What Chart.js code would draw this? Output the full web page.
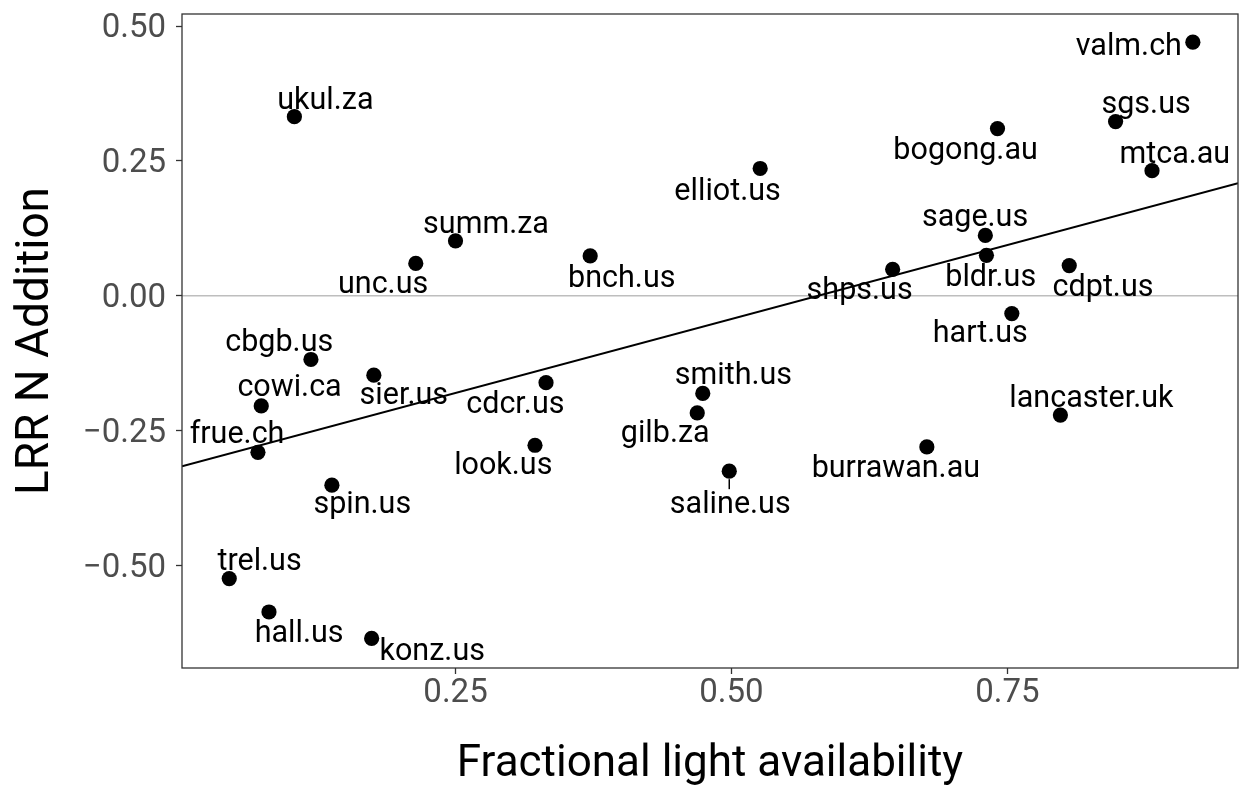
<!DOCTYPE html>
<html>
<head>
<meta charset="utf-8">
<script src="https://cdn.jsdelivr.net/npm/chart.js@4/dist/chart.umd.min.js"></script>
<style>
  html, body { margin: 0; padding: 0; background: #fff; }
  #wrap { width: 1239px; height: 787px; }
</style>
</head>
<body>
<div id="wrap"><canvas id="chart-light" width="1239" height="787"></canvas></div>
<script>
// sitios y valores
const sites = ['valm.ch', 'ukul.za', 'sgs.us', 'bogong.au', 'mtca.au', 'elliot.us', 'summ.za', 'sage.us',
  'bnch.us', 'unc.us', 'bldr.us', 'shps.us', 'cdpt.us', 'hart.us', 'cbgb.us', 'sier.us', 'cdcr.us',
  'smith.us', 'cowi.ca', 'gilb.za', 'lancaster.uk', 'look.us', 'burrawan.au', 'frue.ch', 'saline.us',
  'spin.us', 'trel.us', 'hall.us', 'konz.us']
const lightAvail = [0.918, 0.104, 0.848, 0.741, 0.881, 0.526, 0.250, 0.730,
  0.372, 0.214, 0.731, 0.646, 0.806, 0.754, 0.119, 0.176, 0.332,
  0.474, 0.074, 0.469, 0.798, 0.322, 0.677, 0.071, 0.498,
  0.138, 0.045, 0.081, 0.174]
const lrrN = [0.470, 0.332, 0.323, 0.310, 0.232, 0.236, 0.102, 0.112,
  0.074, 0.060, 0.075, 0.049, 0.056, -0.033, -0.118, -0.147, -0.161,
  -0.181, -0.204, -0.217, -0.221, -0.277, -0.280, -0.290, -0.325,
  -0.351, -0.524, -0.586, -0.635]

// recta de ajuste (extremos)
const trendX = [0.0022, 0.9589]
const trendY = [-0.316, 0.2085]

const xTicks = [0.25, 0.50, 0.75]
const xTickLabels = ['0.25', '0.50', '0.75']
const yTicks = [-0.50, -0.25, 0.00, 0.25, 0.50]
const yTickLabels = ['\u22120.50', '\u22120.25', '0.00', '0.25', '0.50']

const xRange = [0.0022, 0.9589]
const yRange = [-0.6898, 0.5223]

// desplazamiento de cada etiqueta respecto a su punto (px), como lo dejó ggrepel
const labelNudge = {
  'valm.ch': [-64, 12.7], 'ukul.za': [31, -7.4], 'sgs.us': [30.5, -8.4], 'bogong.au': [-31.9, 30.3],
  'mtca.au': [22.8, -8], 'elliot.us': [-32.6, 31.3], 'summ.za': [30.5, -8], 'sage.us': [-10.3, -9.3],
  'bnch.us': [31.6, 30.7], 'unc.us': [-32.7, 30], 'bldr.us': [4.3, 30.7], 'shps.us': [-33, 30],
  'cdpt.us': [33.8, 30.4], 'hart.us': [-31.5, 28.4], 'cbgb.us': [-31.7, -8.6], 'sier.us': [30, 29],
  'cdcr.us': [-30.7, 30.4], 'smith.us': [30.7, -9], 'cowi.ca': [28.3, -9.7], 'gilb.za': [-32, 29],
  'lancaster.uk': [31, -8.3], 'look.us': [-31.7, 29], 'burrawan.au': [-31, 30], 'frue.ch': [-20.9, -9],
  'saline.us': [1, 42], 'spin.us': [30.4, 28], 'trel.us': [30.3, -8.3], 'hall.us': [30.1, 30],
  'konz.us': [60.6, 21.7]
}
const leaderLines = ['saline.us']

const FONT = 'Roboto'

const siteLabels = {
  id: 'siteLabels',
  afterDatasetsDraw(chart) {
    const { ctx, scales: { x, y } } = chart
    ctx.save()
    ctx.font = '30.5px ' + FONT
    ctx.fillStyle = '#000000'
    ctx.strokeStyle = '#000000'
    ctx.lineWidth = 1.5
    ctx.textAlign = 'center'
    ctx.textBaseline = 'alphabetic'
    sites.forEach((s, i) => {
      const px = x.getPixelForValue(lightAvail[i])
      const py = y.getPixelForValue(lrrN[i])
      const [dx, dy] = labelNudge[s]
      if (leaderLines.includes(s)) {
        ctx.beginPath()
        ctx.moveTo(px, py + 8)
        ctx.lineTo(px, py + dy - 24)
        ctx.stroke()
      }
      ctx.fillText(s, px + dx, py + dy)
    })
    ctx.restore()
  }
}

const panelBorder = {
  id: 'panelBorder',
  afterDraw(chart) {
    const { ctx, chartArea: a } = chart
    ctx.save()
    ctx.strokeStyle = '#333333'
    ctx.lineWidth = 1.3
    ctx.strokeRect(a.left, a.top, a.right - a.left, a.bottom - a.top)
    ctx.restore()
  }
}

function build() {
  Chart.defaults.font.family = FONT
  new Chart(document.getElementById('chart-light'), {
    type: 'scatter',
    data: {
      datasets: [{
        label: 'sitios',
        data: sites.map((s, i) => ({ x: lightAvail[i], y: lrrN[i] })),
        backgroundColor: '#000000',
        borderWidth: 0,
        pointRadius: 7.6,
        pointHoverRadius: 7.6
      }, {
        type: 'line',
        label: 'ajuste',
        data: trendX.map((v, i) => ({ x: v, y: trendY[i] })),
        borderColor: '#000000',
        borderWidth: 2,
        pointRadius: 0,
        fill: false
      }, {
        type: 'line',
        label: 'cero',
        data: xRange.map(v => ({ x: v, y: 0 })),
        borderColor: '#BEBEBE',
        borderWidth: 1.6,
        pointRadius: 0,
        fill: false
      }]
    },
    options: {
      responsive: false,
      animation: false,
      layout: { autoPadding: false, padding: { top: 14, right: 1, left: 0, bottom: 0 } },
      plugins: {
        legend: { display: false },
        tooltip: { enabled: false }
      },
      scales: {
        x: {
          type: 'linear',
          min: xRange[0],
          max: xRange[1],
          afterBuildTicks: s => { s.ticks = xTicks.map(v => ({ value: v })) },
          afterFit: s => { s.height = 119; s.paddingLeft = 0; s.paddingRight = 0 },
          grid: { drawOnChartArea: false, tickLength: 6, tickColor: '#333333', tickWidth: 1.3 },
          border: { display: false },
          ticks: {
            autoSkip: false,
            maxRotation: 0,
            padding: 0,
            color: '#4D4D4D',
            font: { size: 33, lineHeight: 1.2 },
            callback: (v) => xTickLabels[xTicks.indexOf(v)]
          },
          title: {
            display: true,
            text: 'Fractional light availability',
            color: '#000000',
            font: { size: 44, lineHeight: 1 },
            padding: { top: 0, bottom: 0 }
          }
        },
        y: {
          type: 'linear',
          min: yRange[0],
          max: yRange[1],
          afterBuildTicks: s => { s.ticks = yTicks.map(v => ({ value: v })) },
          afterFit: s => { s.width = 182; s.paddingTop = 0; s.paddingBottom = 0 },
          grid: { drawOnChartArea: false, tickLength: 6, tickColor: '#333333', tickWidth: 1.3 },
          border: { display: false },
          ticks: {
            autoSkip: false,
            padding: 10,
            labelOffset: 3,
            color: '#4D4D4D',
            font: { size: 33 },
            callback: (v) => yTickLabels[yTicks.indexOf(v)]
          },
          title: {
            display: true,
            text: 'LRR N Addition',
            color: '#000000',
            font: { size: 46, lineHeight: 1 },
            padding: { top: 13.5, bottom: 0 }
          }
        }
      }
    },
    plugins: [siteLabels, panelBorder]
  })
}

window.addEventListener('load', () => {
  Promise.all([
    document.fonts.load('30.5px ' + FONT),
    document.fonts.load('33px ' + FONT),
    document.fonts.load('46px ' + FONT)
  ]).then(build, build)
})
</script>
</body>
</html>
